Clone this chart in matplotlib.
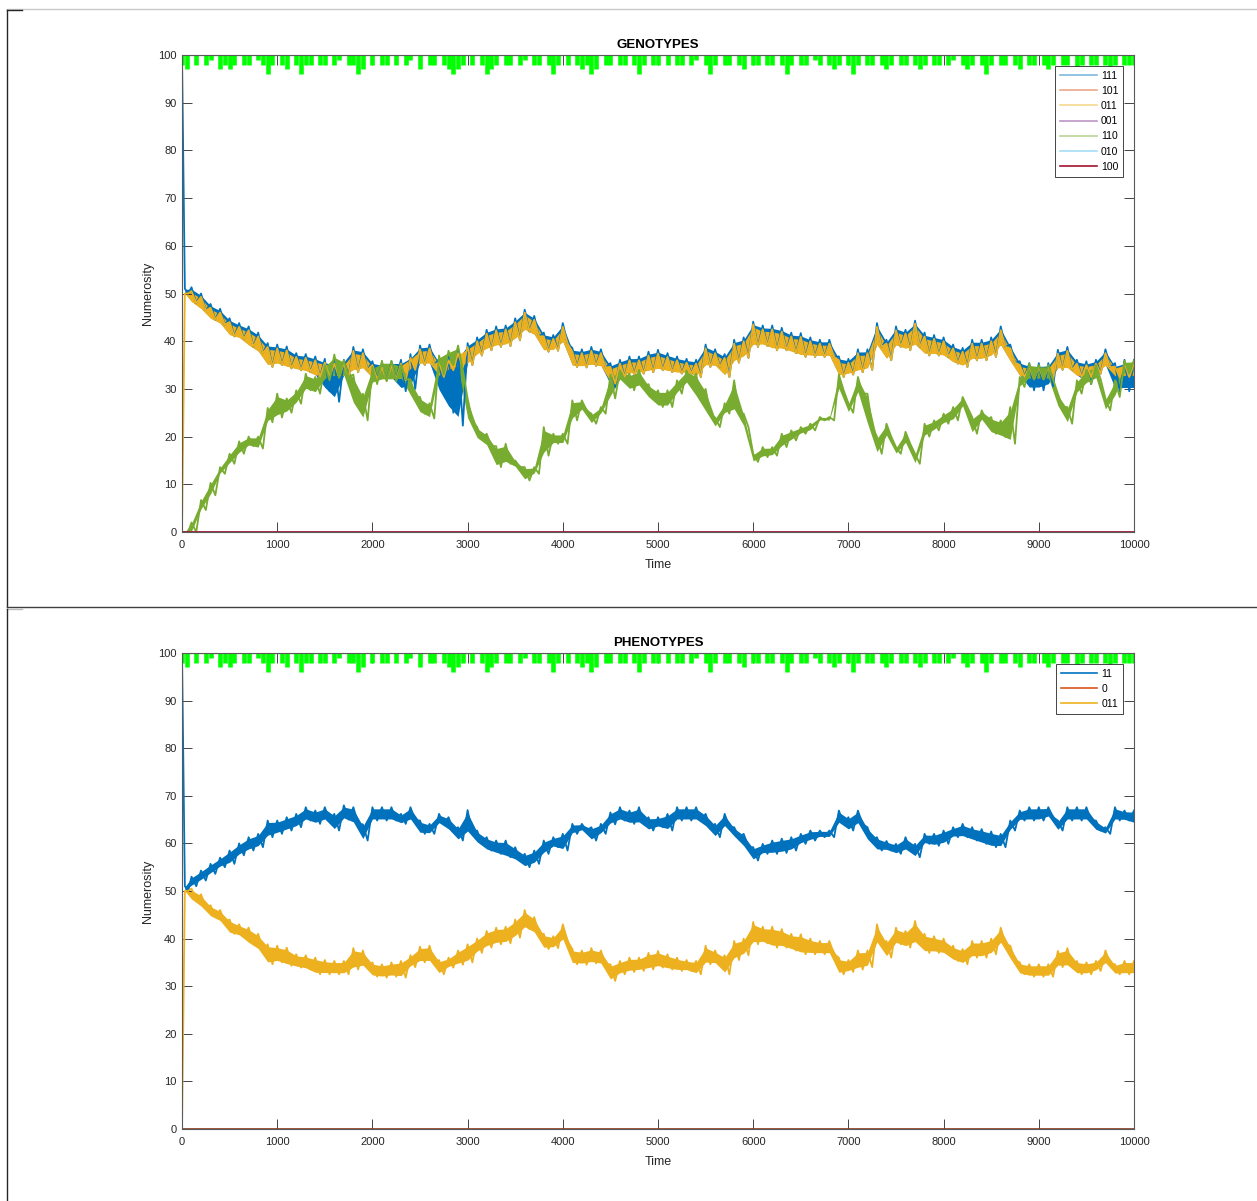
import numpy as np
import matplotlib.pyplot as plt
from matplotlib.lines import Line2D

plt.rcParams['font.family'] = ['Liberation Sans', 'DejaVu Sans']

# ---------------- data ----------------
# envelope sample times (first sample right after the initial jump)
t_env = np.r_[30, np.arange(100, 10001, 100)]
t0 = 0

# genotype 011 (upper / lower edge of the noisy band)
g011_hi = [50, 50.5, 49.3, 47, 46, 44, 43, 42.3, 41, 38.8, 38.5,
           38.1, 36.7, 36.5, 36, 35.5, 35.3, 35.3, 38, 37.5, 35,
           34.6, 35, 35.3, 36.5, 38.3, 38.5, 35.5, 36, 37.5, 38.8,
           40, 41.6, 42.3, 42.5, 44, 46, 44.5, 41, 40.5, 43,
           37.8, 37.5, 38, 37.5, 34.6, 35.3, 36, 36, 37, 37.4,
           36.7, 36, 35.5, 35.3, 38.5, 37.5, 36.5, 39.5, 40, 43.5,
           42.5, 42.5, 42, 41, 40.9, 40, 39.5, 39.5, 36, 35.5,
           37.5, 37.5, 43, 39.5, 42.3, 41.6, 43.7, 41, 40.5, 40,
           38.5, 37.8, 39.5, 39.5, 40, 42.3, 38.5, 35, 34.6, 34.6,
           34.6, 37.4, 38, 35.3, 35, 35.3, 37.5, 34.6, 35.3, 35.3]
g011_lo = [50, 48, 46.5, 44.5, 43.5, 41, 40.5, 38.8, 37.5, 34.6, 35,
           34.3, 33.9, 33.5, 32.5, 32.5, 32.5, 32.5, 33.5, 34, 32,
           31.8, 32, 31.8, 34, 35, 35, 32.5, 33.9, 34.5, 35,
           37, 38.1, 38.8, 39, 40.2, 42, 41, 37.8, 38, 39.5,
           34.6, 34.5, 34.8, 34.5, 31.1, 32.5, 33, 33.2, 33.5, 33.9,
           33.5, 33.2, 33.2, 32.5, 34.6, 34.6, 32.5, 35.5, 36.5, 38.8,
           39, 38.1, 38.1, 37.5, 36.7, 36.7, 36.7, 36.7, 32.5, 33,
           33.5, 34, 38.8, 36, 38.8, 38.1, 38.8, 37, 37, 36.7,
           35.3, 34.6, 36, 36, 36.7, 38.8, 35.5, 32.5, 32, 32,
           32, 34, 34, 32.5, 32.5, 33.2, 34.6, 32.5, 32.5, 32.5]

# genotype 111
g111_hi = [51, 51.3, 50, 47.8, 46.8, 44.8, 43.8, 43.1, 41.8, 39.6, 39.3,
           38.9, 37.5, 37.3, 36.8, 36.3, 36.1, 36.1, 38.8, 38.3, 35.8,
           35.4, 35.8, 36.1, 37.3, 39.1, 39.3, 36.3, 36.8, 38.3, 39.6,
           40.8, 42.4, 43.1, 43.3, 44.8, 46.6, 45.3, 41.8, 41.3, 43.8,
           38.6, 38.3, 38.8, 38.3, 35.4, 36.1, 36.8, 36.8, 37.8, 38.2,
           37.5, 36.8, 36.3, 36.1, 39.3, 38.3, 37.3, 40.3, 40.8, 44.1,
           43.3, 43.3, 42.8, 41.8, 41.7, 40.8, 40.3, 40.3, 36.8, 36.3,
           38.3, 38.3, 43.8, 40.3, 43.1, 42.4, 44.3, 41.8, 41.3, 40.8,
           39.3, 38.6, 40.3, 40.3, 40.8, 43.1, 39.3, 35.8, 35.4, 35.4,
           35.4, 38.2, 38.8, 36.1, 35.8, 36.1, 38.3, 35.4, 36.1, 36.1]
g111_lo = [50, 48, 46.5, 44.5, 43.5, 41, 40.5, 38.8, 37.5, 34.6, 35,
           34.3, 33.9, 33.5, 32.5, 29.5, 27.3, 32.5, 33.5, 34, 32,
           31.8, 32, 29.5, 30, 35, 35, 29, 25, 22.3, 35,
           37, 38.1, 38.8, 39, 40.2, 42, 41, 37.8, 38, 39.5,
           34.6, 34.5, 34.8, 34.5, 30.4, 32.5, 33, 33.2, 33.5, 33.9,
           33.5, 33.2, 33.2, 32.5, 34.6, 34.6, 32.5, 35.5, 36.5, 38.8,
           39, 38.1, 38.1, 37.5, 36.7, 36.7, 36.7, 36.7, 32.5, 33,
           33.5, 34, 38.8, 36, 38.8, 38.1, 38.8, 37, 37, 36.7,
           35.3, 34.6, 36, 36, 36.7, 38.8, 35.5, 32.5, 29.7, 29.7,
           30.5, 34, 34, 32.5, 31, 33.2, 34.6, 29.5, 29.5, 29.5]

# genotype 110
g110_hi = [0, 2, 6.7, 10.3, 13.6, 16.4, 19, 20, 20, 26, 29,
           28, 29.7, 33.2, 32.5, 35, 37.2, 36, 33, 29, 34.6,
           35.9, 35.9, 35, 32, 28.3, 27, 37, 38, 39.1, 28,
           22, 20.6, 18, 18.5, 15, 13.6, 13.6, 22, 20.6, 20.6,
           27.6, 27.6, 24.8, 26.2, 33, 33.9, 33.2, 34, 31, 29.7,
           29.7, 31.8, 33.9, 33.2, 30, 24, 27, 31.8, 24.8, 16.4,
           17.8, 17.8, 20.6, 21.3, 22, 22.7, 24.1, 24.1, 33, 27,
           32.5, 29, 20, 22.7, 17.8, 21, 16.4, 22.7, 23.4, 24.8,
           26.2, 28.3, 24.1, 25.5, 24.1, 23.4, 26.2, 32.5, 35.3, 35,
           35, 29, 26.2, 31.8, 34, 35, 28, 31.8, 35.9, 36]
g110_lo = [0, 0, 4.6, 7.7, 12.2, 14.3, 16.4, 18, 17.5, 23, 24,
           25, 26.9, 29.7, 29, 31.8, 32.3, 32.5, 26.4, 23.4, 31,
           31.6, 31.6, 32, 28.3, 24.8, 23.8, 33, 35, 34, 23.4,
           19.5, 18, 13.6, 14.3, 13.6, 10.8, 12.2, 16, 18.5, 18.5,
           23.4, 25.5, 22.7, 24.8, 28, 31.8, 29.7, 30.4, 28, 26.2,
           26.2, 29, 31.1, 28, 24.8, 22, 24.8, 25, 22, 14.7,
           15.7, 16, 17.8, 19.2, 20.6, 21.3, 23.4, 23.4, 29.7, 25,
           29, 22, 16.4, 20, 16.4, 18.5, 14.3, 20, 21.3, 22.7,
           23.4, 26.2, 20.6, 23.4, 20.6, 19.9, 18.5, 30.4, 32, 32,
           32, 26.2, 22.7, 29, 31, 32, 25.5, 28.3, 33.2, 33.2]

# phenotype 11
p11_hi = [51, 53, 54.3, 55.7, 57, 58.5, 60, 61.3, 62, 64.8, 64.8,
          65.5, 66.2, 67.6, 66.9, 67.6, 66.2, 68, 67.6, 64, 67.6,
          67.6, 67.6, 66.2, 67.6, 64.8, 64.1, 66.2, 65.5, 63.4, 67,
          62.7, 61.3, 60.6, 60.6, 59.2, 57.8, 58.5, 60.6, 61.3, 62,
          64.1, 64.1, 63.4, 64.1, 66.5, 67.6, 66.9, 67.6, 65.5, 65.5,
          66.2, 67.6, 67.6, 67.6, 66.2, 64.1, 66.2, 63.4, 62, 59.2,
          59.9, 60.6, 61, 61.3, 62, 62.7, 62.7, 62.7, 66.9, 65.5,
          66.9, 63.4, 61.3, 60.5, 59.9, 61.3, 59.9, 62, 62, 62.7,
          63.4, 64.1, 63.4, 63, 62.5, 62, 64.8, 66.9, 67.6, 67.6,
          67.6, 64.8, 67.6, 67.6, 67.6, 64.8, 63.4, 67.6, 66.9, 66.9]
p11_lo = [50, 51, 52.2, 53.6, 55, 55.7, 57.5, 58.5, 59.2, 61.3, 62,
          62.7, 63.4, 64.8, 64.1, 64.8, 62.7, 65, 64.1, 60.6, 64.8,
          64.8, 64.8, 64.1, 64.8, 62, 62, 64.1, 62.7, 60.6, 62,
          60, 58.5, 57.8, 57.1, 56.4, 55, 55.7, 57.8, 59.2, 58.5,
          62, 62.7, 60.6, 62, 64, 64.8, 64.1, 64.1, 62.7, 63.4,
          62.7, 64.8, 64.8, 64.8, 63.4, 61.3, 63.4, 61.3, 59.2, 56.4,
          57.8, 57.8, 58, 58.5, 59.9, 60.6, 61.3, 61.3, 64.1, 62.7,
          64, 60.6, 58.5, 58.5, 57.8, 58.5, 57.1, 59.9, 59.5, 59.9,
          61.3, 61.3, 60.6, 59.9, 59.2, 59.2, 62.7, 64.8, 64.8, 64.8,
          65.5, 62.7, 64.8, 64.8, 64.8, 62.7, 62, 64.8, 64.8, 64.1]

# starting values at t = 0
g111_start, g011_start, g110_start, p11_start = 100, 0, 0, 100

# genotypes / phenotypes that stay extinct
extinct_t = [0, 10000]
extinct_v = [0, 0]

# total population, sampled every 50 steps
total_t = np.arange(0, 10001, 50)
total_v = [98, 97, 100, 98, 100, 98, 99, 100, 97, 98, 97, 98, 100, 98, 98, 100, 99, 98, 96, 98,
           100, 98, 97, 100, 98, 96, 98, 98, 100, 98, 98, 100, 98, 99, 100, 98, 98, 96, 97, 100,
           98, 100, 98, 98, 100, 98, 100, 98, 99, 100, 97, 100, 98, 98, 100, 98, 97, 96, 97, 98,
           100, 98, 100, 98, 96, 97, 98, 100, 98, 98, 100, 98, 99, 100, 98, 98, 100, 98, 96, 98,
           100, 98, 100, 98, 97, 98, 96, 97, 100, 98, 98, 100, 98, 98, 100, 98, 96, 98, 100, 98,
           98, 100, 98, 100, 98, 98, 100, 98, 99, 100, 98, 96, 98, 100, 98, 98, 100, 98, 97, 100,
           98, 98, 100, 98, 98, 100, 98, 96, 98, 100, 98, 98, 100, 99, 98, 100, 98, 97, 98, 100,
           98, 96, 98, 100, 98, 98, 100, 98, 97, 98, 100, 98, 98, 100, 98, 97, 98, 100, 98, 98,
           100, 98, 99, 100, 98, 97, 98, 100, 98, 96, 98, 100, 98, 98, 100, 98, 97, 100, 98, 98,
           100, 98, 97, 98, 100, 98, 98, 100, 97, 98, 100, 98, 98, 100, 98, 96, 98, 100, 98, 98,
           98]

geno_labels = ['111', '101', '011', '001', '110', '010', '100']
pheno_labels = ['11', '0', '011']
colors = ['#0072BD', '#D95319', '#EDB120', '#7E2F8E', '#77AC30', '#4DBEEE', '#A2142F']
total_color = '#00FF00'


def band(ax, start, hi, lo, color):
    # filled band body, with the jagged trace drawn across it
    hi = np.asarray(hi, float)
    lo = np.asarray(lo, float)
    w = hi - lo
    ax.fill_between(t_env, lo + 0.12 * w, hi - 0.12 * w, color=color, lw=0)
    mids = (t_env[:-1] + t_env[1:]) / 2
    xs = np.empty(2 * len(t_env) - 1)
    ys = np.empty_like(xs)
    xs[0::2], ys[0::2] = t_env, hi
    xs[1::2], ys[1::2] = mids, lo[:-1]
    ax.plot(np.r_[t0, xs], np.r_[start, ys], color=color, lw=1.3)


def style(ax, title):
    ax.set_xlim(0, 10000)
    ax.set_ylim(0, 100)
    ax.set_xticks(np.arange(0, 10001, 1000))
    ax.set_yticks(np.arange(0, 101, 10))
    ax.tick_params(direction='in', length=7, width=0.6, top=True, right=True,
                   labelsize=8, colors='#262626', pad=4)
    ax.tick_params(axis='x', pad=6)
    for s in ax.spines.values():
        s.set_color('#5a5a5a')
        s.set_linewidth(0.8)
    ax.set_title(title, fontsize=9.5, fontweight='bold', color='black', pad=5)
    ax.set_xlabel('Time', fontsize=9, color='#262626', labelpad=6)
    ax.set_ylabel('Numerosity', fontsize=9, color='#262626', labelpad=3)


def total(ax):
    ax.vlines(total_t, total_v, 100, color=total_color, lw=3.3)
    ax.plot(total_t, np.full(len(total_t), 100), color=total_color, lw=1.6)


fig = plt.figure(figsize=(12.57, 12.01), dpi=100)
W, H = 1257, 1201
ax1 = fig.add_axes([182 / W, 1 - 532 / H, 952 / W, 477 / H])
ax2 = fig.add_axes([182 / W, 1 - 1129 / H, 952 / W, 476 / H])

# ---- genotypes ----
band(ax1, g111_start, g111_hi, g111_lo, colors[0])
ax1.plot(extinct_t, extinct_v, color=colors[1], lw=1)
band(ax1, g011_start, g011_hi, g011_lo, colors[2])
ax1.plot(extinct_t, extinct_v, color=colors[3], lw=1)
band(ax1, g110_start, g110_hi, g110_lo, colors[4])
ax1.plot(extinct_t, extinct_v, color=colors[5], lw=1)
ax1.plot(extinct_t, extinct_v, color=colors[6], lw=1.2)
total(ax1)
style(ax1, 'GENOTYPES')
handles = [Line2D([], [], color=c, lw=1.2, alpha=1 if i == 6 else 0.5)
           for i, c in enumerate(colors)]
leg = ax1.legend(handles, geno_labels, loc='upper right', bbox_to_anchor=(0.9884, 0.977),
                 borderaxespad=0, fontsize=7.5, handlelength=3.5, handletextpad=0.4,
                 labelspacing=0.5, borderpad=0.45, fancybox=False, framealpha=1)
leg.get_frame().set_edgecolor('#262626')
leg.get_frame().set_linewidth(0.6)

# ---- phenotypes ----
band(ax2, p11_start, p11_hi, p11_lo, colors[0])
ax2.plot(extinct_t, extinct_v, color='#8a3a1a', lw=1.2)
band(ax2, g011_start, g011_hi, g011_lo, colors[2])
total(ax2)
style(ax2, 'PHENOTYPES')
handles = [Line2D([], [], color=c, lw=1.2) for c in colors[:3]]
leg = ax2.legend(handles, pheno_labels, loc='upper right', bbox_to_anchor=(0.9884, 0.977),
                 borderaxespad=0, fontsize=7.5, handlelength=3.5, handletextpad=0.4,
                 labelspacing=0.5, borderpad=0.45, fancybox=False, framealpha=1)
leg.get_frame().set_edgecolor('#262626')
leg.get_frame().set_linewidth(0.6)


# panel frames
def fline(x0, y0, x1, y1, color, lw=1.0):
    fig.add_artist(Line2D([x0 / W, x1 / W], [1 - y0 / H, 1 - y1 / H], color=color, lw=lw))


fline(7, 9, 1257, 9, '#c8c8c8')
fline(7, 10, 7, 607, '#262626')
fline(7, 10, 22, 10, '#262626')
fline(7, 607, 1257, 607, '#404040')
fline(7, 609, 22, 609, '#bdbdbd')
fline(7, 609, 7, 1201, '#262626')

fig.savefig('out.png', dpi=100)
